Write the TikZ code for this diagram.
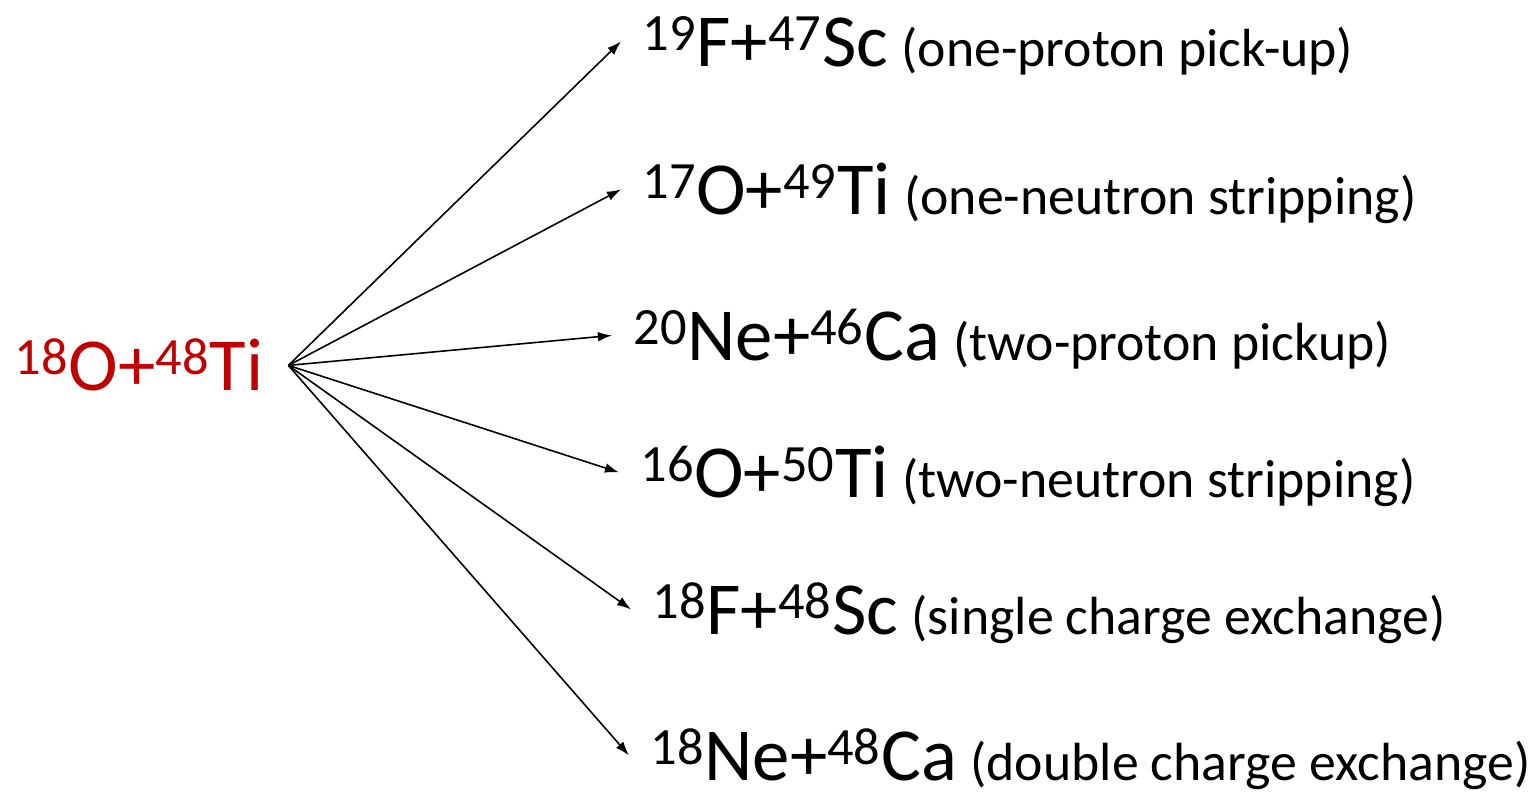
\documentclass[tikz,border=0pt]{standalone}
\usepackage{fontspec}
\setmainfont{Carlito}
\usetikzlibrary{arrows.meta}
\definecolor{srcred}{RGB}{192,0,0}
\newcommand{\nuc}[2]{\textsuperscript{#1}#2}
\newcommand{\chan}[1]{\hspace{-2pt}{\fontsize{30.6}{36}\selectfont(#1)}}

\begin{document}
\begin{tikzpicture}[x=0.02cm, y=-0.02cm,
  every node/.style={inner ysep=0pt, text height=34pt, text depth=6pt, font=\fontsize{42.6}{50}\selectfont},
  src/.style={anchor=base west, inner xsep=14pt, text=srcred},
  prod/.style={anchor=base west, inner xsep=0pt, execute at begin node=\hspace*{12pt}},
  >={Latex[length=8pt,width=5.5pt]}
]
\useasboundingbox (0,0) rectangle (1537,792);

\node[src] (entr) at (-10,390) {\nuc{18}{O}+\nuc{48}{Ti}};

\node[prod] (pup)  at (621,66)  {\nuc{19}{F}+\nuc{47}{Sc} \chan{one-proton pick-up}};
\node[prod] (nstr) at (621,214) {\nuc{17}{O}+\nuc{49}{Ti} \chan{one-neutron stripping}};
\node[prod] (ppup) at (612,360) {\nuc{20}{Ne}+\nuc{46}{Ca} \chan{two-proton pickup}};
\node[prod] (nnst) at (619,497) {\nuc{16}{O}+\nuc{50}{Ti} \chan{two-neutron stripping}};
\node[prod] (sce)  at (631,634) {\nuc{18}{F}+\nuc{48}{Sc} \chan{single charge exchange}};
\node[prod] (dce)  at (629,780) {\nuc{18}{Ne}+\nuc{48}{Ca} \chan{double charge exchange}};

\foreach \t in {pup,nstr,ppup,nnst,sce,dce}
  \draw[->, line width=0.9pt] (entr.east) -- (\t.west);
\end{tikzpicture}
\end{document}
